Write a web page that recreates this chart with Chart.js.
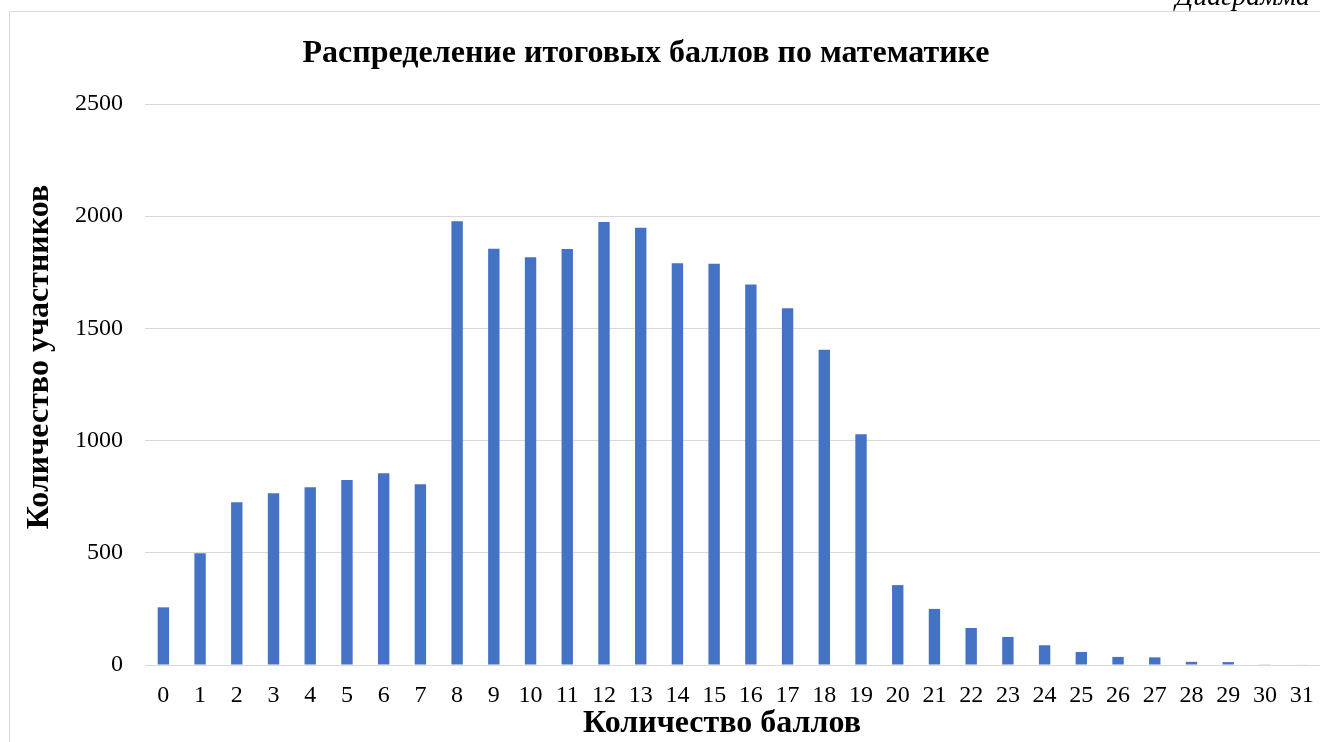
<!DOCTYPE html>
<html lang="ru">
<head>
<meta charset="utf-8">
<title>Распределение итоговых баллов по математике</title>
<script src="https://cdn.jsdelivr.net/npm/chart.js@4.4.1/dist/chart.umd.min.js"></script>
<style>
  html, body { margin: 0; padding: 0; background: #fff; }
  #wrap { width: 1320px; height: 742px; position: relative; }
</style>
</head>
<body>
<div id="wrap"><canvas id="chart" width="1320" height="742"></canvas></div>
<script>
const SERIF = "'Liberation Serif', 'Times New Roman', serif";

const scores = ['0', '1', '2', '3', '4', '5', '6', '7', '8', '9', '10', '11', '12', '13', '14', '15',
  '16', '17', '18', '19', '20', '21', '22', '23', '24', '25', '26', '27', '28', '29', '30', '31'];
const participants = [257, 498, 725, 765, 792, 824, 854, 805, 1977, 1855, 1817, 1854, 1974, 1949, 1790, 1788,
  1696, 1590, 1405, 1028, 356, 250, 165, 125, 88, 58, 36, 34, 14, 13, 3, 2];
const yTicks = [0, 500, 1000, 1500, 2000, 2500];

const chartTitle = 'Распределение итоговых баллов по математике';
const xTitle = 'Количество баллов';
const yTitle = 'Количество участников';

// page frame, cut caption, chart and axis titles (placed like the Word original)
const pageFrame = {
  id: 'pageFrame',
  beforeDraw(chart) {
    const { ctx, width, height } = chart;
    ctx.save();
    ctx.strokeStyle = '#d9d9d9';
    ctx.lineWidth = 1;
    ctx.beginPath();
    ctx.moveTo(9.5, height);
    ctx.lineTo(9.5, 11.5);
    ctx.lineTo(width, 11.5);
    ctx.stroke();
    ctx.fillStyle = '#000';
    ctx.font = `italic 28px ${SERIF}`;
    ctx.textAlign = 'right';
    ctx.textBaseline = 'alphabetic';
    ctx.fillText('Диаграмма', 1310, 5);
    ctx.restore();
  },
  afterDraw(chart) {
    const { ctx } = chart;
    ctx.save();
    ctx.fillStyle = '#000';
    ctx.textAlign = 'center';
    ctx.textBaseline = 'alphabetic';
    ctx.font = `bold 32px ${SERIF}`;
    ctx.fillText(chartTitle, 646, 62);
    ctx.fillText(xTitle, 722, 732);
    ctx.translate(48, 357);
    ctx.rotate(-Math.PI / 2);
    ctx.fillText(yTitle, 0, 0);
    ctx.restore();
  }
};

const ctx = document.getElementById('chart');
new Chart(ctx, {
  type: 'bar',
  data: {
    labels: scores,
    datasets: [
      {
        label: yTitle,
        data: participants,
        backgroundColor: '#4472c4',
        borderWidth: 0,
        categoryPercentage: 1,
        barPercentage: 0.31,
      },
    ],
  },
  options: {
    responsive: false,
    animation: false,
    devicePixelRatio: 1,
    layout: { padding: { left: 10, top: 104, right: 0, bottom: 0 } },
    plugins: {
      legend: { display: false },
      tooltip: { enabled: false },
      title: { display: false },
    },
    scales: {
      x: {
        grid: { display: false },
        border: { display: false },
        ticks: {
          color: '#000',
          font: { family: SERIF, size: 24 },
          padding: 8,
          maxRotation: 0,
          autoSkip: false,
        },
        afterFit(scale) {
          scale.height = 77;
          scale.paddingLeft = 0;
          scale.paddingRight = 0;
        },
      },
      y: {
        min: 0,
        max: 2500,
        afterBuildTicks(scale) { scale.ticks = yTicks.map(v => ({ value: v })); },
        grid: { color: '#d9d9d9', lineWidth: 1, drawTicks: false },
        border: { display: false },
        ticks: {
          color: '#000',
          font: { family: SERIF, size: 24 },
          padding: 22,
          callback: (value) => String(value),
        },
        afterFit(scale) {
          scale.width = 135;
          scale.paddingTop = 0;
          scale.paddingBottom = 0;
        },
      },
    },
  },
  plugins: [pageFrame],
});
</script>
</body>
</html>
